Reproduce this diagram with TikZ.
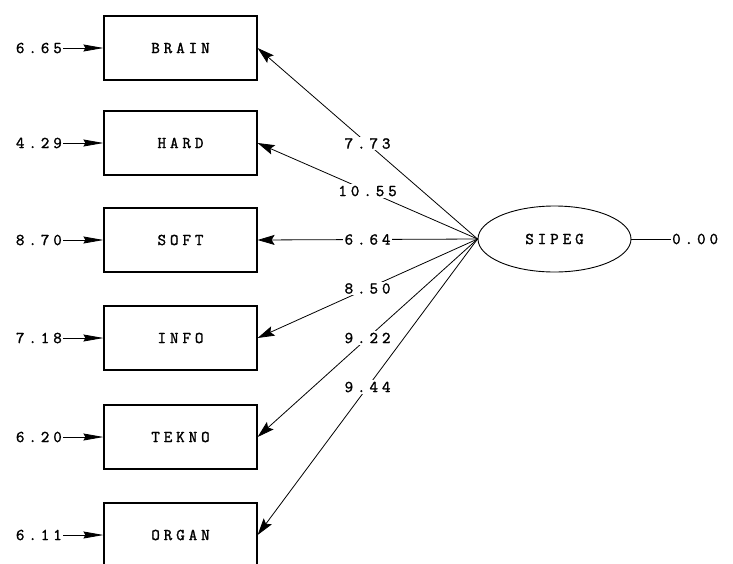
\documentclass[tikz,border=0pt]{standalone}
\usepackage{fontspec}
\newfontfamily\lisfont[LetterSpace=24, FakeBold=1.6]{Latin Modern Mono}
\usetikzlibrary{
  arrows.meta,          % arrow tips
  shapes.geometric,     % ellipse
}

\begin{document}
\begin{tikzpicture}[
  x=1pt, y=-1pt,
  font=\lisfont\fontsize{16.5}{19}\selectfont,
  indicator/.style={draw, line width=1.2pt, minimum width=153pt, minimum height=64pt, inner sep=0pt},
  latent/.style={draw, ellipse, line width=0.9pt, minimum width=153pt, minimum height=66pt, inner sep=0pt},
  errval/.style={anchor=east, inner sep=1pt},
  loading/.style={-{Stealth[length=17pt, width=10pt, inset=3pt]}, line width=0.8pt},
  errarrow/.style={-{Stealth[length=20pt, width=7pt, inset=2pt]}, line width=0.8pt},
  coef/.style={fill=white, inner sep=1.5pt},
]
  \useasboundingbox (0,0) rectangle (733,563);
  % Observed indicators
  \node[indicator] (brain) at (180.5, 48)  {BRAIN};
  \node[indicator] (hard)  at (180.5, 143) {HARD};
  \node[indicator] (soft)  at (180.5, 240) {SOFT};
  \node[indicator] (info)  at (180.5, 338) {INFO};
  \node[indicator] (tekno) at (180.5, 437) {TEKNO};
  \node[indicator] (organ) at (180.5, 535) {ORGAN};
  % Error variances
  \node[errval] (eBrain) at (63, 48)  {6.65};
  \node[errval] (eHard)  at (63, 143) {4.29};
  \node[errval] (eSoft)  at (63, 240) {8.70};
  \node[errval] (eInfo)  at (63, 338) {7.18};
  \node[errval] (eTekno) at (63, 437) {6.20};
  \node[errval] (eOrgan) at (63, 535) {6.11};
  \draw[errarrow] (eBrain.east) -- (brain.west);
  \draw[errarrow] (eHard.east)  -- (hard.west);
  \draw[errarrow] (eSoft.east)  -- (soft.west);
  \draw[errarrow] (eInfo.east)  -- (info.west);
  \draw[errarrow] (eTekno.east) -- (tekno.west);
  \draw[errarrow] (eOrgan.east) -- (organ.west);
  % Latent variable
  \node[latent] (sipeg) at (554.5, 239) {SIPEG};
  \node[anchor=west, inner sep=1pt] (sipegVar) at (671, 239) {0.00};
  \draw[line width=0.8pt] (sipeg.east) -- (sipegVar.west);
  % Loadings
  \draw[loading] (sipeg.west) -- node[coef] {7.73}  (brain.east);
  \draw[loading] (sipeg.west) -- node[coef] {10.55} (hard.east);
  \draw[loading] (sipeg.west) -- node[coef] {6.64}  (soft.east);
  \draw[loading] (sipeg.west) -- node[coef] {8.50}  (info.east);
  \draw[loading] (sipeg.west) -- node[coef] {9.22}  (tekno.east);
  \draw[loading] (sipeg.west) -- node[coef] {9.44}  (organ.east);
\end{tikzpicture}
\end{document}
